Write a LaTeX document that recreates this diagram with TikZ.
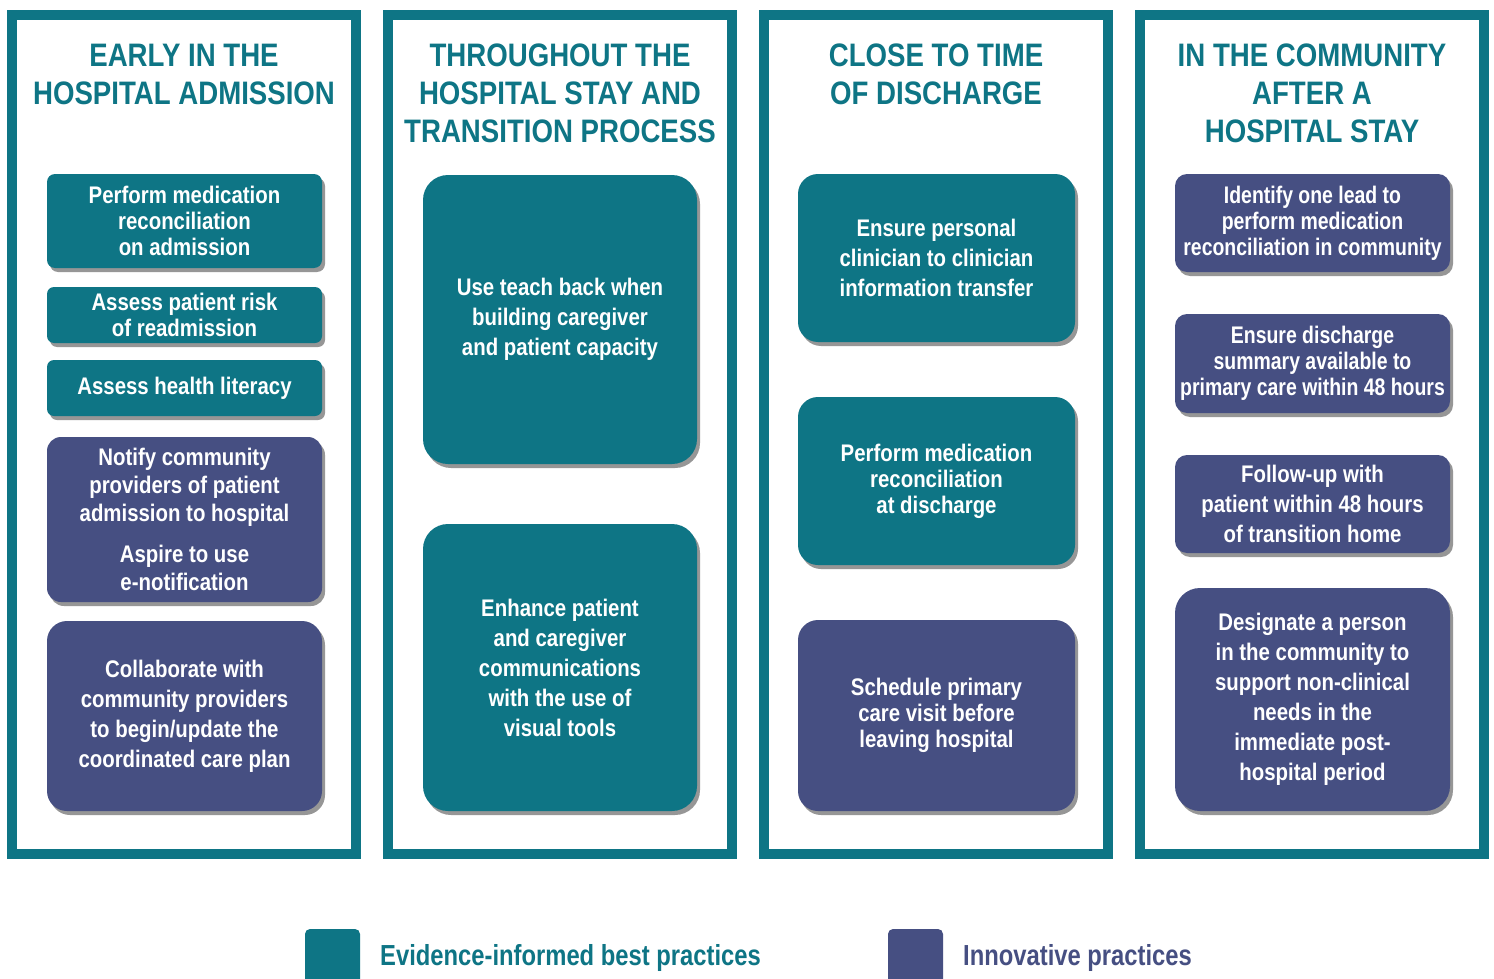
\documentclass[tikz,border=0pt]{standalone}
\usepackage{fontspec}
\setmainfont{Liberation Sans}
\newfontfamily\bodyfont[FakeStretch=0.85]{Liberation Sans}
\newfontfamily\narrowfont[FakeStretch=0.81]{Liberation Sans}
\newfontfamily\legfont[FakeStretch=0.82]{Liberation Sans}
\usetikzlibrary{shadows}
\definecolor{tealc}{RGB}{14,117,133}
\definecolor{purc}{RGB}{70,79,130}
\definecolor{shadc}{RGB}{150,150,150}
\begin{document}
\begin{tikzpicture}[x=1pt,y=-1pt,
  panel/.style={draw=tealc, line width=10pt, fill=white, inner sep=0pt, minimum width=344pt, minimum height=839pt},
  coltitle/.style={text=tealc, font=\bodyfont\bfseries\fontsize{32.5}{38}\selectfont, align=center, inner sep=0pt},
  card/.style={text=white, align=center, inner sep=0pt, drop shadow={shadow xshift=3pt, shadow yshift=-4pt, fill=shadc, opacity=1}},
  evid/.style={card, fill=tealc},
  innov/.style={card, fill=purc},
  fs26/.style={font=\bodyfont\bfseries\fontsize{24}{26}\selectfont},
  fs26n/.style={font=\narrowfont\bfseries\fontsize{24}{26}\selectfont},
  fs28/.style={font=\bodyfont\bfseries\fontsize{24}{28}\selectfont},
  fs30/.style={font=\bodyfont\bfseries\fontsize{24}{30}\selectfont},
  legsq/.style={inner sep=0pt, minimum width=55pt, minimum height=70pt, rounded corners=5pt},
  legtext/.style={font=\legfont\bfseries\fontsize{29}{34}\selectfont, anchor=west, inner sep=0pt}
]
\useasboundingbox (0,0) rectangle (1494,979);
\fill[white] (0,0) rectangle (1494,979);

% panels
\node[panel] (p1) at (184,434.5) {};
\node[panel] (p2) at (560,434.5) {};
\node[panel] (p3) at (936,434.5) {};
\node[panel] (p4) at (1312,434.5) {};

% titles
\node[coltitle] (t1) at (184,74) {EARLY IN THE\\HOSPITAL ADMISSION};
\node[coltitle] (t2) at (560,93.5) {THROUGHOUT THE\\HOSPITAL STAY AND\\TRANSITION PROCESS};
\node[coltitle] (t3) at (936,74) {CLOSE TO TIME\\OF DISCHARGE};
\node[coltitle] (t4) at (1312,93.5) {IN THE COMMUNITY\\AFTER A\\HOSPITAL STAY};

% column 1
\node[evid, fs26, minimum width=275pt, minimum height=94pt, rounded corners=8pt] (a1) at (184.5,221) {Perform medication\\reconciliation\\on admission};
\node[evid, fs26, minimum width=275pt, minimum height=56pt, rounded corners=7pt] (a2) at (184.5,315) {Assess patient risk\\of readmission};
\node[evid, fs26, minimum width=275pt, minimum height=56pt, rounded corners=7pt] (a3) at (184.5,388) {Assess health literacy};
\node[innov, fs28, minimum width=275pt, minimum height=165pt, rounded corners=14pt] (a4) at (184.5,519.5) {Notify community\\providers of patient\\admission to hospital\\[13pt]Aspire to use\\e-notification};
\node[innov, fs30, minimum width=275pt, minimum height=190pt, rounded corners=20pt] (a5) at (184.5,716) {Collaborate with\\community providers\\to begin/update the\\coordinated care plan};

% column 2
\node[evid, fs30, minimum width=274pt, minimum height=289pt, rounded corners=25pt] (b1) at (560,319.5) {Use teach back when\\building caregiver\\and patient capacity};
\node[evid, fs30, minimum width=274pt, minimum height=287pt, rounded corners=25pt] (b2) at (560,667.5) {Enhance patient\\and caregiver\\communications\\with the use of\\visual tools};

% column 3
\node[evid, fs30, minimum width=277pt, minimum height=168pt, rounded corners=20pt] (c1) at (936.5,258) {Ensure personal\\clinician to clinician\\information transfer};
\node[evid, fs26, minimum width=277pt, minimum height=168pt, rounded corners=20pt] (c2) at (936.5,481) {Perform medication\\reconciliation\\at discharge};
\node[innov, fs26, minimum width=277pt, minimum height=191pt, rounded corners=20pt] (c3) at (936.5,715.5) {Schedule primary\\care visit before\\leaving hospital};

% column 4
\node[innov, fs26n, minimum width=275pt, minimum height=98pt, rounded corners=12pt] (d1) at (1312.5,223) {Identify one lead to\\perform medication\\reconciliation in community};
\node[innov, fs26n, minimum width=275pt, minimum height=99pt, rounded corners=12pt] (d2) at (1312.5,363.5) {Ensure discharge\\summary available to\\primary care within 48 hours};
\node[innov, fs30, minimum width=275pt, minimum height=98pt, rounded corners=12pt] (d3) at (1312.5,504) {Follow-up with\\patient within 48 hours\\of transition home};
\node[innov, fs30, minimum width=275pt, minimum height=223pt, rounded corners=25pt] (d4) at (1312.5,699.5) {Designate a person\\in the community to\\support non-clinical\\needs in the\\immediate post-\\hospital period};

% legend
\node[legsq, fill=tealc] (ls1) at (332.5,964) {};
\node[legsq, fill=purc] (ls2) at (915.5,964) {};
\node[legtext, text=tealc] (lt1) at (380,958) {Evidence-informed best practices};
\node[legtext, text=purc] (lt2) at (963,958) {Innovative practices};
\end{tikzpicture}
\end{document}
